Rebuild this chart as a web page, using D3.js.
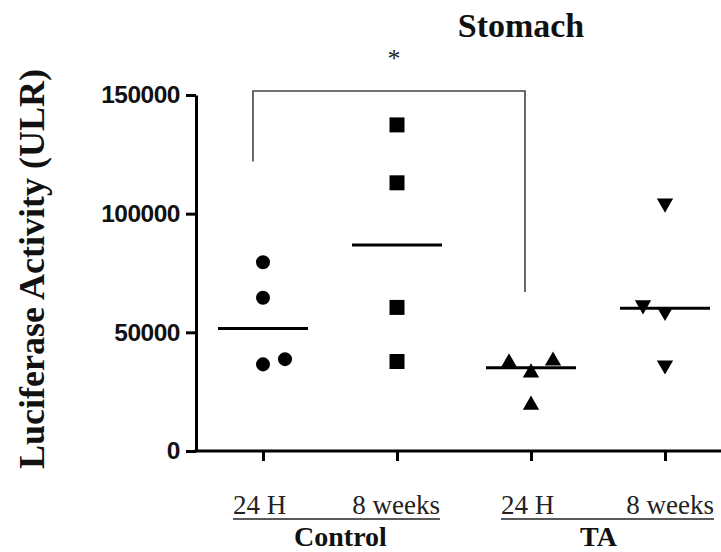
<!DOCTYPE html>
<html>
<head>
<meta charset="utf-8">
<script src="https://cdn.jsdelivr.net/npm/d3@7"></script>
<style>
  body { margin: 0; background: #fff; }
  svg { display: block; }
</style>
</head>
<body>
<div id="chart"></div>
<script>
// groups along the x axis
const groups = ["Control 24 H", "Control 8 weeks", "TA 24 H", "TA 8 weeks"];
const groupLabels = ["24 H", "8 weeks", "24 H", "8 weeks"];
const treatments = ["Control", "TA"];

// values (ULR)
const control24h = [79500, 64600, 36500, 38700];
const control8w = [137400, 113000, 60500, 37700];
const ta24h = [37200, 33000, 38000, 19400];
const ta8w = [104400, 61500, 58700, 36200];

// side-by-side slot of each point (-1 left, 0 centre, 1 right) where markers overlap
const control24hSlot = [0, 0, 0, 1];
const control8wSlot = [0, 0, 0, 0];
const ta24hSlot = [-1, 0, 1, 0];
const ta8wSlot = [0, -1, 0, 0];

const yTicks = [0, 50000, 100000, 150000];

// significance bracket: top, left leg end, right leg end
const bracketTop = 151700;
const bracketLeftEnd = 122000;
const bracketRightEnd = 67000;

const width = 721, height = 552;
const serif = "'Liberation Serif', 'Times New Roman', serif";

const svg = d3.select("#chart").append("svg")
  .attr("width", width)
  .attr("height", height);

const x = d3.scalePoint()
  .domain(groups)
  .range([196, 732])
  .padding(0.5);

const y = d3.scaleLinear()
  .domain([0, 150000])
  .range([451, 95]);

const series = [
  { group: groups[0], values: control24h, slots: control24hSlot, shape: "circle" },
  { group: groups[1], values: control8w, slots: control8wSlot, shape: "square" },
  { group: groups[2], values: ta24h, slots: ta24hSlot, shape: "up" },
  { group: groups[3], values: ta8w, slots: ta8wSlot, shape: "down" }
];

const slotWidth = 22;

// y axis
const yAxis = svg.append("g")
  .attr("transform", `translate(${x.range()[0]},0)`)
  .call(d3.axisLeft(y).tickValues(yTicks).tickSize(10).tickSizeOuter(0).tickPadding(6)
    .tickFormat(d3.format("d")));
yAxis.select(".domain").attr("stroke-width", 3);
yAxis.selectAll(".tick line").attr("stroke-width", 3);
yAxis.selectAll(".tick text")
  .attr("font-family", "'Liberation Sans', Arial, sans-serif")
  .attr("font-weight", "bold")
  .attr("font-size", 24.5)
  .attr("letter-spacing", -0.5)
  .attr("fill", "#111");

// x axis
const xAxis = svg.append("g")
  .attr("transform", `translate(0,${y(0)})`)
  .call(d3.axisBottom(x).tickSize(10).tickSizeOuter(0).tickFormat(""));
xAxis.select(".domain").attr("stroke-width", 3)
  .attr("d", `M${x.range()[0] - 1.5},0H${x.range()[1]}`);
xAxis.selectAll(".tick line").attr("stroke-width", 3);

// markers
const symbolFor = {
  circle: d3.symbol(d3.symbolCircle, 154)(),
  square: d3.symbol(d3.symbolSquare, 225)(),
  up: d3.symbol(d3.symbolTriangle, 115)(),
  down: d3.symbol(d3.symbolTriangle, 115)()
};

const pts = svg.append("g").attr("id", "points");
series.forEach(s => {
  pts.selectAll(null)
    .data(s.values)
    .join("path")
    .attr("d", symbolFor[s.shape])
    .attr("fill", "#000")
    .attr("transform", (d, i) => {
      const px = x(s.group) + s.slots[i] * slotWidth;
      const rot = s.shape === "down" ? " rotate(180)" : "";
      return `translate(${px},${y(d)})${rot}`;
    });
});

// median lines
const halfLine = 45;
svg.append("g").selectAll("line")
  .data(series)
  .join("line")
  .attr("x1", d => x(d.group) - halfLine)
  .attr("x2", d => x(d.group) + halfLine)
  .attr("y1", d => y(d3.median(d.values)))
  .attr("y2", d => y(d3.median(d.values)))
  .attr("stroke", "#000")
  .attr("stroke-width", 3);

// significance bracket between Control 24 H and TA 24 H
const bxL = x(groups[0]) - 10, bxR = x(groups[2]) - 6;
svg.append("path")
  .attr("d", `M${bxL},${y(bracketLeftEnd)}V${y(bracketTop)}H${bxR}V${y(bracketRightEnd)}`)
  .attr("fill", "none")
  .attr("stroke", "#444")
  .attr("stroke-width", 1.6);

svg.append("text")
  .attr("x", (bxL + bxR) / 2 + 5)
  .attr("y", 67)
  .attr("text-anchor", "middle")
  .attr("font-family", serif)
  .attr("font-size", 26)
  .attr("fill", "#222")
  .text("*");

// title
svg.append("text")
  .attr("x", 521)
  .attr("y", 37)
  .attr("text-anchor", "middle")
  .attr("font-family", serif)
  .attr("font-weight", "bold")
  .attr("font-size", 34)
  .attr("fill", "#111")
  .text("Stomach");

// y axis title
svg.append("text")
  .attr("transform", `translate(44,269) rotate(-90)`)
  .attr("text-anchor", "middle")
  .attr("font-family", serif)
  .attr("font-weight", "bold")
  .attr("font-size", 36)
  .attr("fill", "#111")
  .text("Luciferase Activity (ULR)");

// x category labels, underlined per treatment
const labelY = 514;
treatments.forEach((t, k) => {
  const g0 = groups[k * 2], g1 = groups[k * 2 + 1];
  const left = x(g0) - 30;
  const right = x(g1) + (k === 0 ? 43 : 49);
  svg.append("text")
    .attr("x", left).attr("y", labelY)
    .attr("font-family", serif).attr("font-size", 27).attr("fill", "#222")
    .text(groupLabels[k * 2]);
  svg.append("text")
    .attr("x", right).attr("y", labelY)
    .attr("text-anchor", "end")
    .attr("font-family", serif).attr("font-size", 27).attr("fill", "#222")
    .text(groupLabels[k * 2 + 1]);
  svg.append("line")
    .attr("x1", left).attr("x2", right)
    .attr("y1", 519).attr("y2", 519)
    .attr("stroke", "#222").attr("stroke-width", 1.6);
  svg.append("text")
    .attr("x", (left + right) / 2 + (k === 0 ? 4 : -9))
    .attr("y", 546)
    .attr("text-anchor", "middle")
    .attr("font-family", serif).attr("font-weight", "bold").attr("font-size", 28)
    .attr("fill", "#111")
    .text(t);
});
</script>
</body>
</html>
